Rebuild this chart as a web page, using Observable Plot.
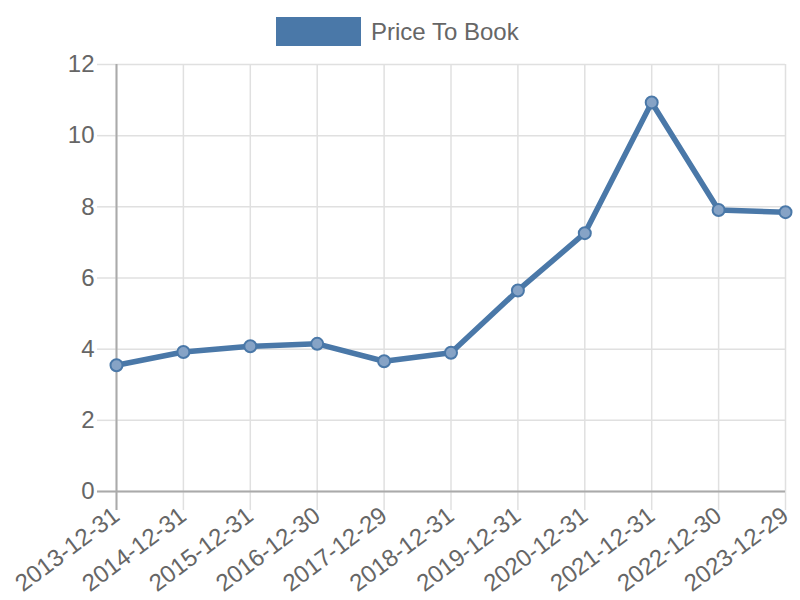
<!DOCTYPE html>
<html>
<head>
<meta charset="utf-8">
<script src="https://cdn.jsdelivr.net/npm/d3@7"></script>
<script src="https://cdn.jsdelivr.net/npm/@observablehq/plot@0.6"></script>
<style>
  body { margin: 0; background: #fff; font-family: "Liberation Sans", Arial, sans-serif; overflow: hidden; }
  #legend { position: relative; width: 800px; height: 50px; }
  #legend .sw { position: absolute; left: 276px; top: 17px; width: 85px; height: 29px; background: #4a78a8; }
  #legend .lt { position: absolute; left: 371px; top: 17px; line-height: 30px; font-size: 24px; color: #666; }
  #chart svg { display: block; }
</style>
</head>
<body>
<div id="legend"><span class="sw"></span><span class="lt">Price To Book</span></div>
<div id="chart"></div>
<script>
const dates = ["2013-12-31","2014-12-31","2015-12-31","2016-12-30","2017-12-29","2018-12-31","2019-12-31","2020-12-31","2021-12-31","2022-12-30","2023-12-29"];
const priceToBook = [3.55, 3.92, 4.08, 4.15, 3.66, 3.90, 5.65, 7.26, 10.93, 7.91, 7.85];
const yTicks = [0, 2, 4, 6, 8, 10, 12];
const seriesName = "Price To Book";

const data = dates.map((d, i) => ({date: d, value: priceToBook[i]}));
const color = "#4a78a8";

const chart = Plot.plot({
  width: 800,
  height: 550,
  marginTop: 14,
  marginBottom: 109,
  marginLeft: 116,
  marginRight: 15,
  style: {fontFamily: "'Liberation Sans', Arial, sans-serif", fontSize: "24px", color: "#666", background: "#fff", overflow: "visible"},
  x: {type: "point", domain: dates, padding: 0, round: false},
  y: {domain: [0, 12]},
  marks: [
    Plot.gridX(dates, {stroke: "#e0e0e0", strokeOpacity: 1, strokeWidth: 1.5}),
    Plot.gridY(yTicks, {stroke: "#e0e0e0", strokeOpacity: 1, strokeWidth: 1.5}),
    Plot.axisY(yTicks, {tickSize: 19, tickPadding: 3, stroke: "#e0e0e0", strokeWidth: 1.5, fill: "#666", fontSize: 24, label: null}),
    Plot.axisX(dates, {tickSize: 19, tickPadding: 2, tickRotate: -37, stroke: "#e0e0e0", strokeWidth: 1.5, fill: "#666", fontSize: 24, label: null}),
    Plot.ruleY([0], {stroke: "#aaa", strokeWidth: 2, insetLeft: -19}),
    Plot.ruleX([dates[0]], {stroke: "#aaa", strokeWidth: 2, insetBottom: -19}),
    Plot.line(data, {x: "date", y: "value", stroke: color, strokeWidth: 5.5, strokeLinejoin: "round"}),
    Plot.dot(data, {x: "date", y: "value", r: 6, fill: "#86a3c6", stroke: color, strokeWidth: 2})
  ]
});
document.getElementById("chart").appendChild(chart);
</script>
</body>
</html>
